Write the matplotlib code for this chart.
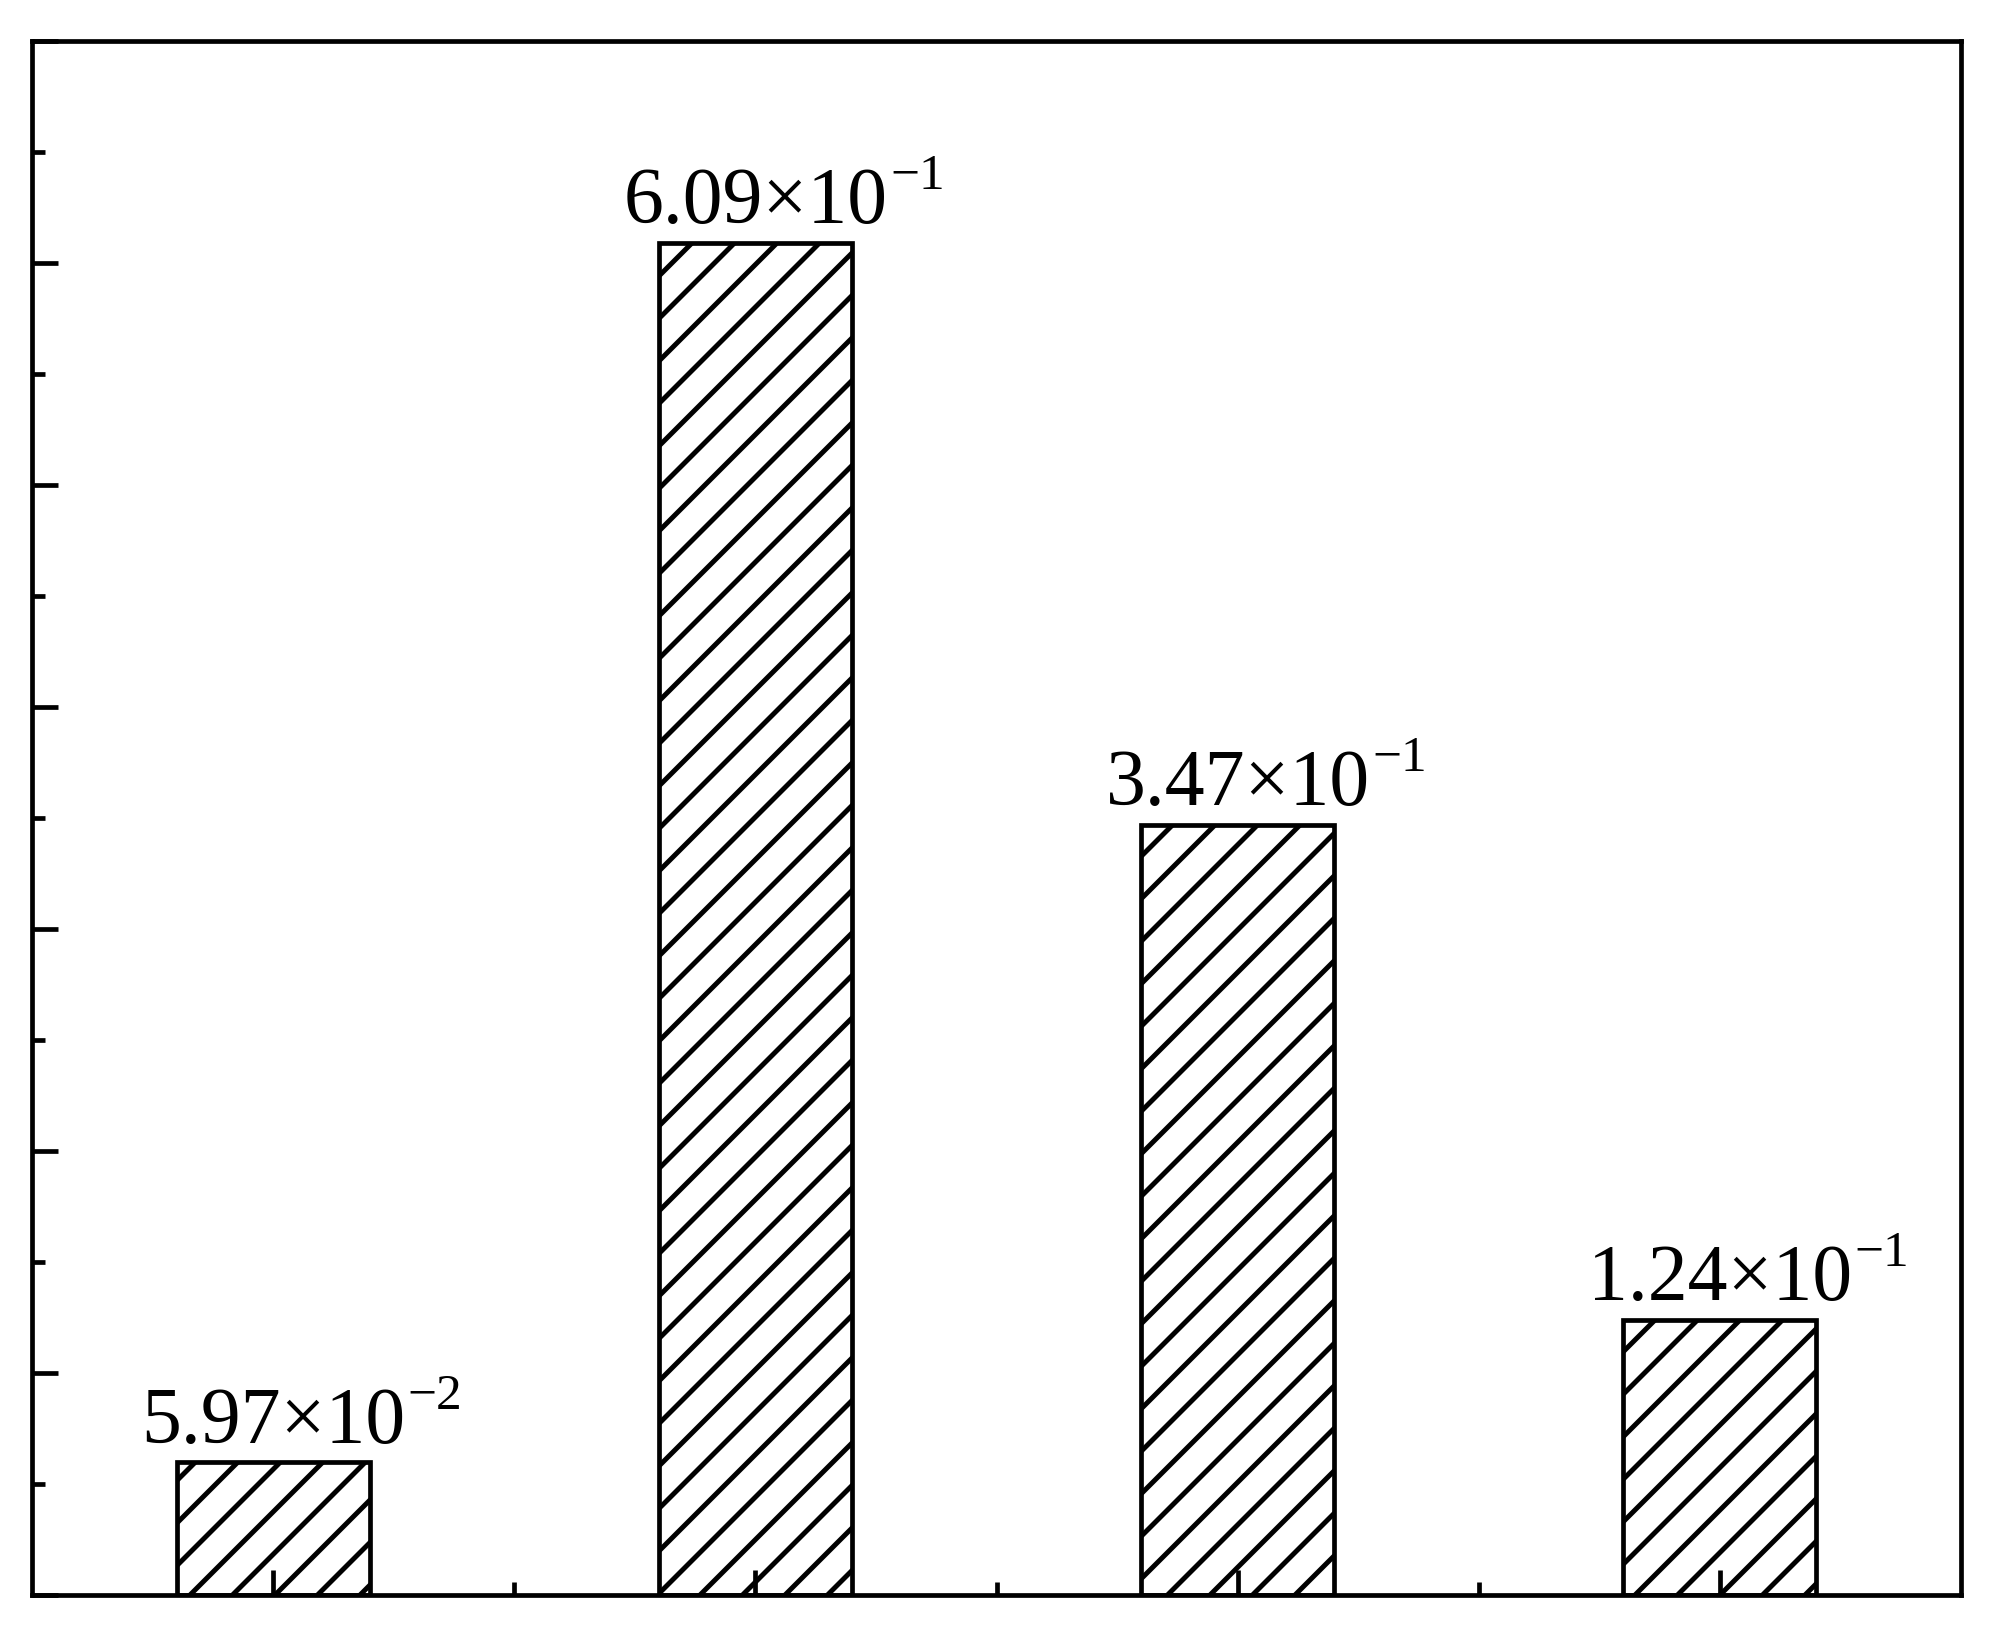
import matplotlib
matplotlib.use('Agg')
import matplotlib.pyplot as plt
from matplotlib.ticker import MultipleLocator, FixedLocator

# --- datos ---
posiciones = [0, 1, 2, 3]
valores = [5.97e-2, 6.09e-1, 3.47e-1, 1.24e-1]
mantisas = ['5.97', '6.09', '3.47', '1.24']
exponentes = ['\u22122', '\u22121', '\u22121', '\u22121']
ticks_menores_x = [0.5, 1.5, 2.5]

plt.rcParams['font.family'] = ['Liberation Serif', 'DejaVu Serif']
plt.rcParams['hatch.linewidth'] = 1.4
plt.rcParams['hatch.color'] = 'black'

DPI = 255
fig = plt.figure(figsize=(2008 / DPI, 1637 / DPI), dpi=DPI)
ax = fig.add_axes([32.3 / 2008, 42 / 1637, 1928.4 / 2008, 1554.3 / 1637])

ax.bar(posiciones, valores, width=0.4, color='white', edgecolor='black',
       linewidth=1.33, hatch='//', zorder=1)

# etiquetas: mantisa centrada en la barra, exponente colgando a la derecha
for x, v, m, e in zip(posiciones, valores, mantisas, exponentes):
    base = ax.annotate(f'{m}\u00d710', xy=(x, v), xytext=(0, 5.5),
                       textcoords='offset points', ha='center', va='baseline',
                       fontsize=22.5)
    ax.annotate(e, xy=(1, v), xycoords=(base, 'data'), xytext=(0.7, 5.5 + 9.6),
                textcoords='offset points', ha='left', va='baseline',
                fontsize=14.5)

ax.set_xlim(-0.5, 3.5)
ax.set_ylim(0, 0.7)
ax.set_xticks(posiciones)
ax.xaxis.set_minor_locator(FixedLocator(ticks_menores_x))
ax.yaxis.set_major_locator(MultipleLocator(0.1))
ax.yaxis.set_minor_locator(MultipleLocator(0.05))
ax.tick_params(which='both', direction='in', top=False, right=False,
               labelbottom=False, labelleft=False, width=1.33)
ax.tick_params(which='major', length=7.2)
ax.tick_params(which='minor', length=3.8)
for sp in ax.spines.values():
    sp.set_linewidth(1.33)

fig.savefig('out.png', dpi=DPI)
